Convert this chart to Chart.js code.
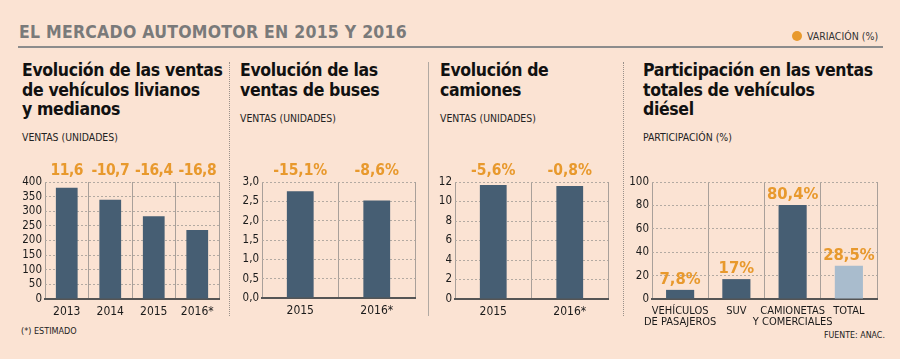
<!DOCTYPE html>
<html>
<head>
<meta charset="utf-8">
<script src="https://cdn.jsdelivr.net/npm/chart.js@4.4.1/dist/chart.umd.min.js"></script>
<style>
  html, body { margin:0; padding:0; }
  body { width:900px; height:359px; overflow:hidden; background:#fbe3d3; }
  #stage { position:relative; width:900px; height:359px; background:#fbe3d3;
           font-family:'DejaVu Sans Condensed','DejaVu Sans',sans-serif; color:#151515; }
  .abs { position:absolute; white-space:nowrap; }
  .main-title { font-size:17.5px; font-weight:bold; color:#7a7a7a; letter-spacing:0.25px; }
  .rule { left:18px; top:46px; width:865px; height:2px; background:#8c8c8c; }
  .legend { font-size:10.5px; color:#333; line-height:12px; }
  .dot { position:absolute; width:10px; height:10px; border-radius:50%; background:#e8992d; }
  .ptitle { font-size:17.5px; font-weight:bold; line-height:19.5px; color:#111; letter-spacing:-0.35px; }
  .psub { font-size:10.4px; color:#222; }
  .sep-dot { width:0; border-left:1px dotted #9a918a; }
  .sep-solid { width:1px; background:#b1a9a2; }
  canvas { position:absolute; }
  .note { font-size:9px; color:#222; }
</style>
</head>
<body>
<div id="stage">
  <div class="abs main-title" style="left:19px;top:22px">EL MERCADO AUTOMOTOR EN 2015 Y 2016</div>
  <div class="abs rule"></div>
  <div class="abs dot" style="left:792px;top:31px"></div>
  <div class="abs legend" style="left:807px;top:30px">VARIACIÓN (%)</div>

  <div class="abs ptitle" style="left:22px;top:61px">Evolución de las ventas<br>de vehículos livianos<br>y medianos</div>
  <div class="abs psub" style="left:22px;top:131px">VENTAS (UNIDADES)</div>

  <div class="abs ptitle" style="left:240px;top:61px">Evolución de las<br>ventas de buses</div>
  <div class="abs psub" style="left:240px;top:112px">VENTAS (UNIDADES)</div>

  <div class="abs ptitle" style="left:440px;top:61px">Evolución de<br>camiones</div>
  <div class="abs psub" style="left:440px;top:112px">VENTAS (UNIDADES)</div>

  <div class="abs ptitle" style="left:643px;top:61px">Participación en las ventas<br>totales de vehículos<br>diésel</div>
  <div class="abs psub" style="left:643px;top:131px">PARTICIPACIÓN (%)</div>

  <div class="abs sep-dot" style="left:229px;top:62px;height:254px"></div>
  <div class="abs sep-solid" style="left:428px;top:62px;height:254px"></div>
  <div class="abs sep-dot" style="left:623px;top:62px;height:254px"></div>

  <canvas id="c1"></canvas>
  <canvas id="c2"></canvas>
  <canvas id="c3"></canvas>
  <canvas id="c4"></canvas>

  <div class="abs note" style="left:21px;top:326px">(*) ESTIMADO</div>
  <div class="abs note" style="left:824px;top:330px;font-size:8.8px">FUENTE: ANAC.</div>
</div>
<script>
// ---- Data ----
const livianosYears = ['2013', '2014', '2015', '2016*'];
const livianosVentas = [380, 339, 283, 236];
const livianosVariacion = ['11,6', '-10,7', '-16,4', '-16,8'];

const busesYears = ['2015', '2016*'];
const busesVentas = [2.76, 2.52];
const busesVariacion = ['-15,1%', '-8,6%'];

const camionesYears = ['2015', '2016*'];
const camionesVentas = [11.7, 11.6];
const camionesVariacion = ['-5,6%', '-0,8%'];

const dieselCategorias = [['VEHÍCULOS', 'DE PASAJEROS'], ['SUV'], ['CAMIONETAS', 'Y COMERCIALES'], ['TOTAL']];
const dieselParticipacion = [7.8, 17, 80.4, 28.5];
const dieselEtiquetas = ['7,8%', '17%', '80,4%', '28,5%'];

// ---- Styles ----
const FONT = "'DejaVu Sans Condensed','DejaVu Sans',sans-serif";
const BAR = '#465e73';
const BAR_TOTAL = '#a9bccd';
const ORANGE = '#e8992d';
Chart.defaults.font.family = FONT;
Chart.defaults.color = '#1a1a1a';
Chart.defaults.animation = false;

const varPlugin = {
  id: 'varLabels',
  afterDatasetsDraw(chart, args, opts) {
    const { ctx, chartArea } = chart;
    const meta = chart.getDatasetMeta(0);
    ctx.save();
    ctx.fillStyle = ORANGE;
    ctx.font = opts.font;
    if ('letterSpacing' in ctx) ctx.letterSpacing = opts.spacing || '0px';
    ctx.textAlign = 'center';
    ctx.textBaseline = 'alphabetic';
    meta.data.forEach((bar, i) => {
      const y = opts.mode === 'top' ? chartArea.top - opts.offset : bar.y - opts.offset;
      ctx.fillText(opts.texts[i], bar.x, y);
    });
    ctx.restore();
  }
};

function makePanel(id, box, area, labels, values, colors, barPct, yMax, yStep, fmt, varOpts, xH, xFont, xPad) {
  const cv = document.getElementById(id);
  cv.style.left = box.left + 'px';
  cv.style.top = box.top + 'px';
  cv.width = box.width; cv.height = box.height;
  cv.style.width = box.width + 'px'; cv.style.height = box.height + 'px';
  const yW = area.l - box.left;
  const padTop = area.t - box.top;
  const padRight = box.left + box.width - area.r;
  const padBottom = box.top + box.height - area.b - xH;
  new Chart(cv, {
    type: 'bar',
    data: { labels: labels, datasets: [{ data: values, backgroundColor: colors, borderWidth: 0,
            barPercentage: barPct, categoryPercentage: 1 }] },
    plugins: [varPlugin],
    options: {
      responsive: false,
      maintainAspectRatio: false,
      layout: { padding: { left: 0, top: padTop, right: padRight, bottom: padBottom } },
      plugins: { legend: { display: false }, tooltip: { enabled: false }, varLabels: varOpts },
      scales: {
        x: {
          z: 1,
          grid: { color: '#a9a09a', lineWidth: 1, drawTicks: false, offset: true },
          border: { display: true, color: '#555555', width: 2 },
          ticks: { font: xFont, color: '#1a1a1a', padding: xPad, maxRotation: 0, autoSkip: false },
          afterFit(s) { s.height = xH; }
        },
        y: {
          min: 0, max: yMax,
          grid: { color: '#b3aaa2', lineWidth: 1, drawTicks: false },
          border: { display: false, dash: [2, 2] },
          ticks: { stepSize: yStep, autoSkip: false, font: { size: 11.5 }, color: '#1a1a1a', padding: 3,
                   callback: (v) => fmt(v) },
          afterFit(s) { s.width = yW; }
        }
      }
    }
  });
}

const topVarFont = "bold 15.5px " + FONT;

makePanel('c1', { left: 0, top: 140, width: 229, height: 185 },
  { l: 45, t: 182, r: 219, b: 299 },
  livianosYears, livianosVentas, BAR, 0.5, 400, 50, v => String(v),
  { mode: 'top', texts: livianosVariacion, font: topVarFont, offset: 7, spacing: '-0.5px' }, 24, { size: 12 }, 6);

makePanel('c2', { left: 230, top: 140, width: 197, height: 185 },
  { l: 262, t: 182, r: 415, b: 298 },
  busesYears, busesVentas, BAR, 0.35, 3, 0.5, v => v.toFixed(1).replace('.', ','),
  { mode: 'top', texts: busesVariacion, font: topVarFont, offset: 7 }, 24, { size: 12 }, 6);

makePanel('c3', { left: 429, top: 140, width: 192, height: 185 },
  { l: 455, t: 182, r: 608, b: 299 },
  camionesYears, camionesVentas, BAR, 0.35, 12, 2, v => String(v),
  { mode: 'top', texts: camionesVariacion, font: topVarFont, offset: 7 }, 24, { size: 12 }, 6);

makePanel('c4', { left: 624, top: 140, width: 272, height: 190 },
  { l: 652, t: 182, r: 877, b: 299 },
  dieselCategorias, dieselParticipacion, [BAR, BAR, BAR, BAR_TOTAL], 0.5, 100, 20, v => String(v),
  { mode: 'bar', texts: dieselEtiquetas, font: "bold 16.5px " + FONT, offset: 6 }, 32,
  { size: 11, lineHeight: 1.0 }, 7);
</script>
</body>
</html>
